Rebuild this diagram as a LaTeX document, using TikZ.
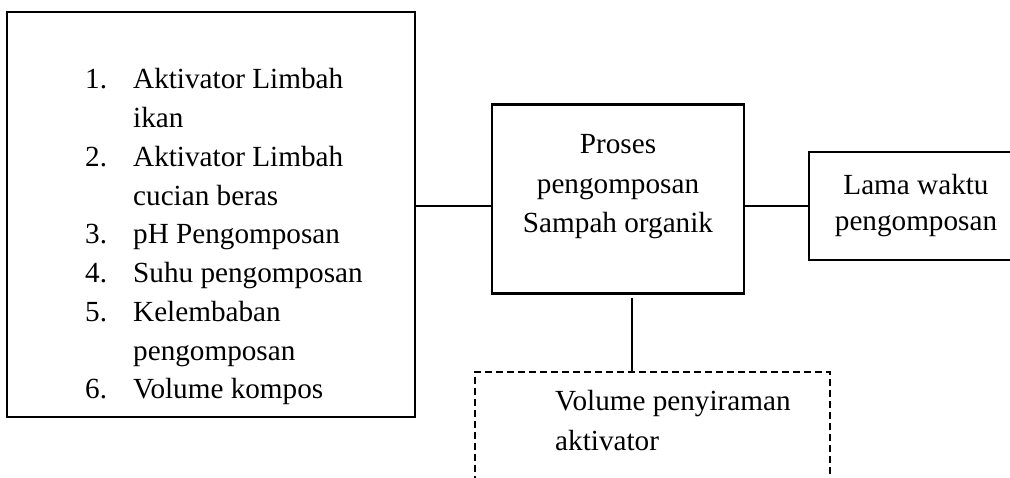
\documentclass[tikz,border=0pt]{standalone}
\usepackage{fontspec}
\setmainfont{Liberation Serif}
\begin{document}
\begin{tikzpicture}[x=1pt,y=-1pt,
  every node/.style={font=\fontsize{29.2}{38.8}\selectfont},
  box/.style={draw, line width=2.6pt, inner sep=0pt},
  dbox/.style={draw, line width=2.4pt, inner sep=0pt, dash pattern=on 7pt off 4pt},
  conn/.style={line width=2.6pt}]
\useasboundingbox (0,0) rectangle (1010,478);
\clip (0,0) rectangle (1010,478);
% left box
\node[box, minimum width=408pt, minimum height=405pt] (L) at (211,214.5) {};
\node[anchor=base west, align=left, inner sep=0pt] (Ltext) at (85,399)
 {\makebox[48pt][l]{1.}Aktivator Limbah\\
  \hspace*{48pt}ikan\\
  \makebox[48pt][l]{2.}Aktivator Limbah\\
  \hspace*{48pt}cucian beras\\
  \makebox[48pt][l]{3.}pH Pengomposan\\
  \makebox[48pt][l]{4.}Suhu pengomposan\\
  \makebox[48pt][l]{5.}Kelembaban\\
  \hspace*{48pt}pengomposan\\
  \makebox[48pt][l]{6.}Volume kompos};
% middle box
\node[box, minimum width=252pt, minimum height=189pt] (M) at (618,199) {};
\node[align=center, inner sep=0pt, anchor=base,
      font=\fontsize{29.2}{39.5}\selectfont] (Mtext) at (618,233)
 {Proses\\pengomposan\\Sampah organik};
% right box
\node[box, minimum width=214pt, minimum height=108pt, align=center,
      font=\fontsize{29.2}{36}\selectfont] (R) at (916,206)
 {Lama waktu\\pengomposan};
% dashed box
\node[dbox, minimum width=355pt, minimum height=132pt] (D) at (652.5,438) {};
\node[anchor=base west, align=left, inner sep=0pt,
      font=\fontsize{29.2}{40}\selectfont] (Dtext) at (555,450)
 {Volume penyiraman\\aktivator};
% connectors
\coordinate (c) at (0,206);
\coordinate (v) at (632,0);
\draw[conn] (L.east |- c) -- (M.west |- c);
\draw[conn] (M.east |- R.west) -- (R.west);
\draw[conn] ([yshift=-3pt]M.south -| v) -- (D.north -| v);
\end{tikzpicture}
\end{document}
